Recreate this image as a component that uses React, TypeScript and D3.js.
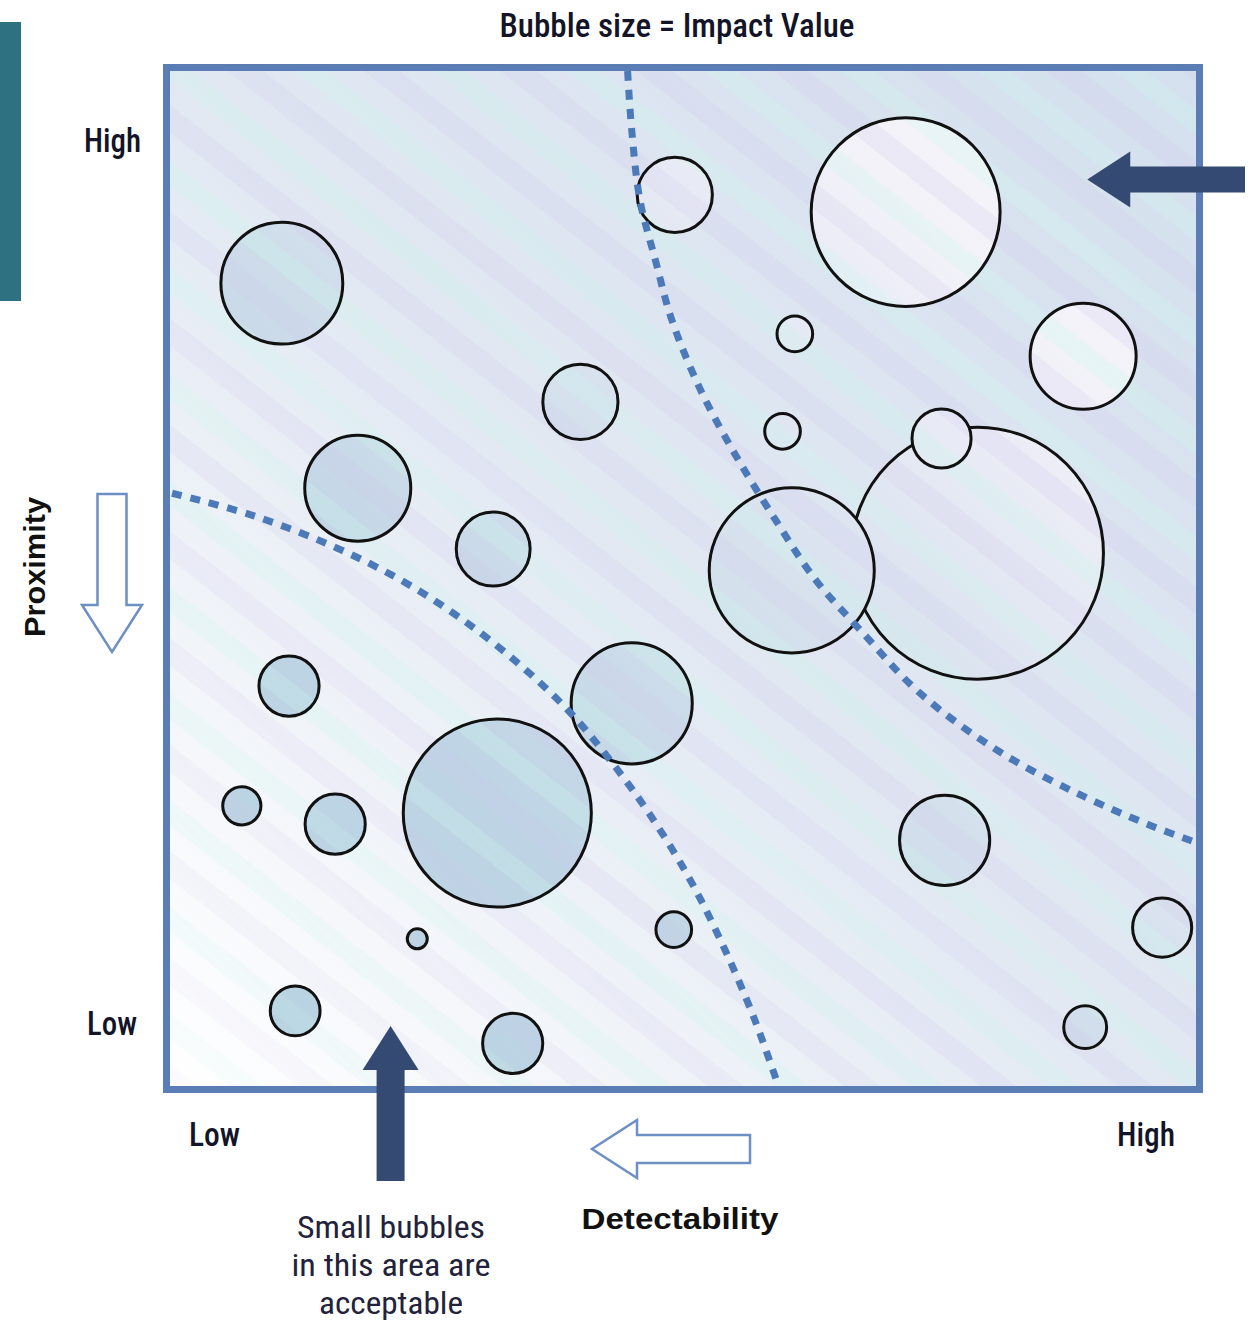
import React from 'react';
import * as d3 from 'd3';

// ---- Data ----
const detectability = [10.9, 49.2, 71.7, 60.9, 89.0, 40.0, 59.7, 78.7, 75.2, 60.6, 18.3, 31.5, 45.0, 11.6, 31.9, 7.0, 16.1, 75.5, 49.1, 24.1, 96.7, 12.2, 33.4, 89.2];
const proximity = [79.1, 87.8, 86.1, 74.1, 71.9, 67.4, 64.5, 52.5, 63.8, 50.8, 58.9, 52.9, 37.7, 39.4, 26.9, 27.6, 25.8, 24.2, 15.4, 14.5, 15.6, 7.4, 4.2, 5.8];
const impactValue = [23.4, 8.9, 56.2, 2.0, 17.7, 8.9, 2.0, 100, 5.5, 42.9, 17.7, 8.6, 23.1, 5.7, 55.7, 2.3, 5.7, 12.8, 2.0, 0.63, 5.5, 3.9, 5.7, 2.9];

// threshold curves (detectability, proximity)
const upperCurveX = [44.6, 45.0, 45.8, 47.3, 48.9, 51.7, 55.1, 59.0, 62.9, 67.3, 73.1, 80.9, 88.7, 95.5, 100];
const upperCurveY = [100, 94.2, 87.3, 81.4, 75.5, 68.6, 62.2, 55.8, 49.9, 44.9, 38.7, 32.9, 28.7, 25.7, 24.0];
const lowerCurveX = [0.2, 7.8, 15.6, 22.4, 28.3, 34.1, 39.0, 42.9, 46.8, 50.7, 54.1, 57.0, 59.3];
const lowerCurveY = [58.4, 56.3, 53.3, 49.9, 46.1, 41.5, 36.8, 32.1, 26.7, 20.3, 13.4, 6.5, 0];

const title = 'Bubble size = Impact Value';
const yTickLabels = ['High', 'Low'];
const xTickLabels = ['Low', 'High'];
const yAxisTitle = 'Proximity';
const xAxisTitle = 'Detectability';
const noteLines = ['Small bubbles', 'in this area are', 'acceptable'];

const W = 1253;
const H = 1322;
const plot = { left: 170, right: 1196, top: 71, bottom: 1086 };

export default function App() {
  const x = d3.scaleLinear().domain([0, 100]).range([plot.left, plot.right]);
  const y = d3.scaleLinear().domain([0, 100]).range([plot.bottom, plot.top]);
  const r = d3.scaleSqrt().domain([0, 100]).range([0, 126]);

  const bubbles = detectability.map((d, i) => ({ d, p: proximity[i], v: impactValue[i] }));

  const line = d3
    .line<[number, number]>()
    .x((p) => x(p[0]))
    .y((p) => y(p[1]))
    .curve(d3.curveCatmullRom.alpha(0.5));
  const upperPts = upperCurveX.map((v, i) => [v, upperCurveY[i]] as [number, number]);
  const lowerPts = lowerCurveX.map((v, i) => [v, lowerCurveY[i]] as [number, number]);

  const condensed = "'Liberation Sans Narrow', 'Roboto Condensed', 'Arial Narrow', Roboto, 'Liberation Sans', sans-serif";
  const boldSans = "'Liberation Sans', Arial, sans-serif";

  // annotation arrows (positioned with the scales)
  const ra = { tx: x(89.4), ty: y(89.3) };
  const rightArrow = `M${ra.tx},${ra.ty} L${ra.tx + 43},${ra.ty - 28} L${ra.tx + 43},${ra.ty - 13} L${W - 8},${ra.ty - 13} L${W - 8},${ra.ty + 13} L${ra.tx + 43},${ra.ty + 13} L${ra.tx + 43},${ra.ty + 28} Z`;
  const ua = { tx: x(21.5), ty: y(5.9) };
  const upArrow = `M${ua.tx},${ua.ty} L${ua.tx + 28},${ua.ty + 44} L${ua.tx + 14},${ua.ty + 44} L${ua.tx + 14},1181 L${ua.tx - 14},1181 L${ua.tx - 14},${ua.ty + 44} L${ua.tx - 28},${ua.ty + 44} Z`;
  const da = { cx: 112, top: 494, base: 605, tip: 652 };
  const downArrow = `M${da.cx - 14.5},${da.top} L${da.cx + 14.5},${da.top} L${da.cx + 14.5},${da.base} L${da.cx + 30},${da.base} L${da.cx},${da.tip} L${da.cx - 30},${da.base} L${da.cx - 14.5},${da.base} Z`;
  const la = { cy: 1149, right: 750, base: 637, tip: 592 };
  const leftArrow = `M${la.right},${la.cy - 14} L${la.right},${la.cy + 14} L${la.base},${la.cy + 14} L${la.base},${la.cy + 29} L${la.tip},${la.cy} L${la.base},${la.cy - 29} L${la.base},${la.cy - 14} Z`;

  return (
    <svg width={W} height={H} style={{ position: 'absolute', left: 0, top: 0, display: 'block' }}>
      <defs>
        <linearGradient id="bg" gradientUnits="userSpaceOnUse" x1={plot.left} y1={plot.bottom} x2={plot.right} y2={plot.top}>
          <stop offset="0" stopColor="#ffffff" />
          <stop offset="0.28" stopColor="#eef2f8" />
          <stop offset="0.5" stopColor="#e1e8f2" />
          <stop offset="1" stopColor="#d4e0ee" />
        </linearGradient>
        <linearGradient id="bub" gradientUnits="userSpaceOnUse" x1={plot.left} y1={plot.bottom} x2={plot.right} y2={plot.top}>
          <stop offset="0" stopColor="#b7d3e1" />
          <stop offset="0.3" stopColor="#bed4e4" />
          <stop offset="0.45" stopColor="#cedcea" />
          <stop offset="0.56" stopColor="#d8e2ee" />
          <stop offset="0.66" stopColor="#e3e8f3" />
          <stop offset="0.8" stopColor="#f3f2f9" />
          <stop offset="1" stopColor="#f8f7fc" />
        </linearGradient>
        <pattern id="stripes" patternUnits="userSpaceOnUse" width="84" height="84" patternTransform="rotate(-52)">
          <rect x="0" y="0" width="22" height="84" fill="rgb(208,198,236)" opacity="0.22" />
          <rect x="42" y="0" width="20" height="84" fill="rgb(205,246,236)" opacity="0.32" />
        </pattern>
        <linearGradient id="fade" gradientUnits="userSpaceOnUse" x1={plot.left} y1={plot.bottom} x2={plot.right} y2={plot.top}>
          <stop offset="0" stopColor="#fff" stopOpacity="0.3" />
          <stop offset="0.3" stopColor="#fff" stopOpacity="0.85" />
          <stop offset="1" stopColor="#fff" stopOpacity="1" />
        </linearGradient>
        <mask id="stripeMask" maskUnits="userSpaceOnUse" x={plot.left} y={plot.top} width={plot.right - plot.left} height={plot.bottom - plot.top}>
          <rect x={plot.left} y={plot.top} width={plot.right - plot.left} height={plot.bottom - plot.top} fill="url(#fade)" />
        </mask>
        <clipPath id="plotClip">
          <rect x={plot.left} y={plot.top} width={plot.right - plot.left} height={plot.bottom - plot.top} />
        </clipPath>
      </defs>

      {/* teal side bar */}
      <rect x={0} y={22} width={21} height={279} fill="#2e7282" />

      <g clipPath="url(#plotClip)">
        {/* plot background + stripes */}
        <rect x={plot.left} y={plot.top} width={plot.right - plot.left} height={plot.bottom - plot.top} fill="url(#bg)" />
        <rect x={plot.left} y={plot.top} width={plot.right - plot.left} height={plot.bottom - plot.top} fill="url(#stripes)" mask="url(#stripeMask)" />

        {/* bubbles */}
        {bubbles.map((b, i) => (
          <g key={i}>
            <circle cx={x(b.d)} cy={y(b.p)} r={r(b.v)} fill="url(#bub)" />
            <circle cx={x(b.d)} cy={y(b.p)} r={r(b.v)} fill="url(#stripes)" mask="url(#stripeMask)" />
            <circle cx={x(b.d)} cy={y(b.p)} r={r(b.v)} fill="none" stroke="#111" strokeWidth={3} />
          </g>
        ))}

        {/* threshold curves */}
        <path d={line(upperPts) || ''} fill="none" stroke="#4c79b7" strokeWidth={7} strokeDasharray="10 9" />
        <path d={line(lowerPts) || ''} fill="none" stroke="#4c79b7" strokeWidth={7} strokeDasharray="10 9" />
      </g>

      {/* frame */}
      <rect
        x={plot.left - 3.5}
        y={plot.top - 3.5}
        width={plot.right - plot.left + 7}
        height={plot.bottom - plot.top + 7}
        fill="none"
        stroke="#5b7db6"
        strokeWidth={7}
      />

      {/* filled arrows */}
      <path d={rightArrow} fill="#344a72" />
      <path d={upArrow} fill="#344a72" />

      {/* hollow arrows */}
      <path d={downArrow} fill="#fff" stroke="#6d8fc4" strokeWidth={2.5} strokeLinejoin="miter" />
      <path d={leftArrow} fill="#fff" stroke="#6d8fc4" strokeWidth={2.5} strokeLinejoin="miter" />

      {/* title */}
      <text x={677} y={37} textAnchor="middle" fontFamily={condensed} fontWeight={500} fontSize={34} fill="#141428" textLength={355} lengthAdjust="spacingAndGlyphs">
        {title}
      </text>

      {/* y tick labels */}
      <text x={84} y={152} fontFamily={condensed} fontWeight={500} fontSize={33} fill="#141428" textLength={57} lengthAdjust="spacingAndGlyphs">
        {yTickLabels[0]}
      </text>
      <text x={87} y={1035} fontFamily={condensed} fontWeight={500} fontSize={33} fill="#141428" textLength={50} lengthAdjust="spacingAndGlyphs">
        {yTickLabels[1]}
      </text>

      {/* x tick labels */}
      <text x={189} y={1146} fontFamily={condensed} fontWeight={500} fontSize={33} fill="#141428" textLength={51} lengthAdjust="spacingAndGlyphs">
        {xTickLabels[0]}
      </text>
      <text x={1117} y={1146} fontFamily={condensed} fontWeight={500} fontSize={33} fill="#141428" textLength={58} lengthAdjust="spacingAndGlyphs">
        {xTickLabels[1]}
      </text>

      {/* axis titles */}
      <text
        transform="translate(45,567) rotate(-90)"
        textAnchor="middle"
        fontFamily={boldSans}
        fontWeight="bold"
        fontSize={29}
        fill="#111"
        textLength={140}
        lengthAdjust="spacingAndGlyphs"
      >
        {yAxisTitle}
      </text>
      <text x={680} y={1229} textAnchor="middle" fontFamily={boldSans} fontWeight="bold" fontSize={29} fill="#111" textLength={197} lengthAdjust="spacingAndGlyphs">
        {xAxisTitle}
      </text>

      {/* note */}
      {noteLines.map((t, i) => (
        <text
          key={i}
          x={391}
          y={1238 + i * 38}
          textAnchor="middle"
          fontFamily={condensed}
          fontSize={31}
          fill="#22223a"
          textLength={[188, 199, 144][i]}
          lengthAdjust="spacingAndGlyphs"
        >
          {t}
        </text>
      ))}
    </svg>
  );
}
